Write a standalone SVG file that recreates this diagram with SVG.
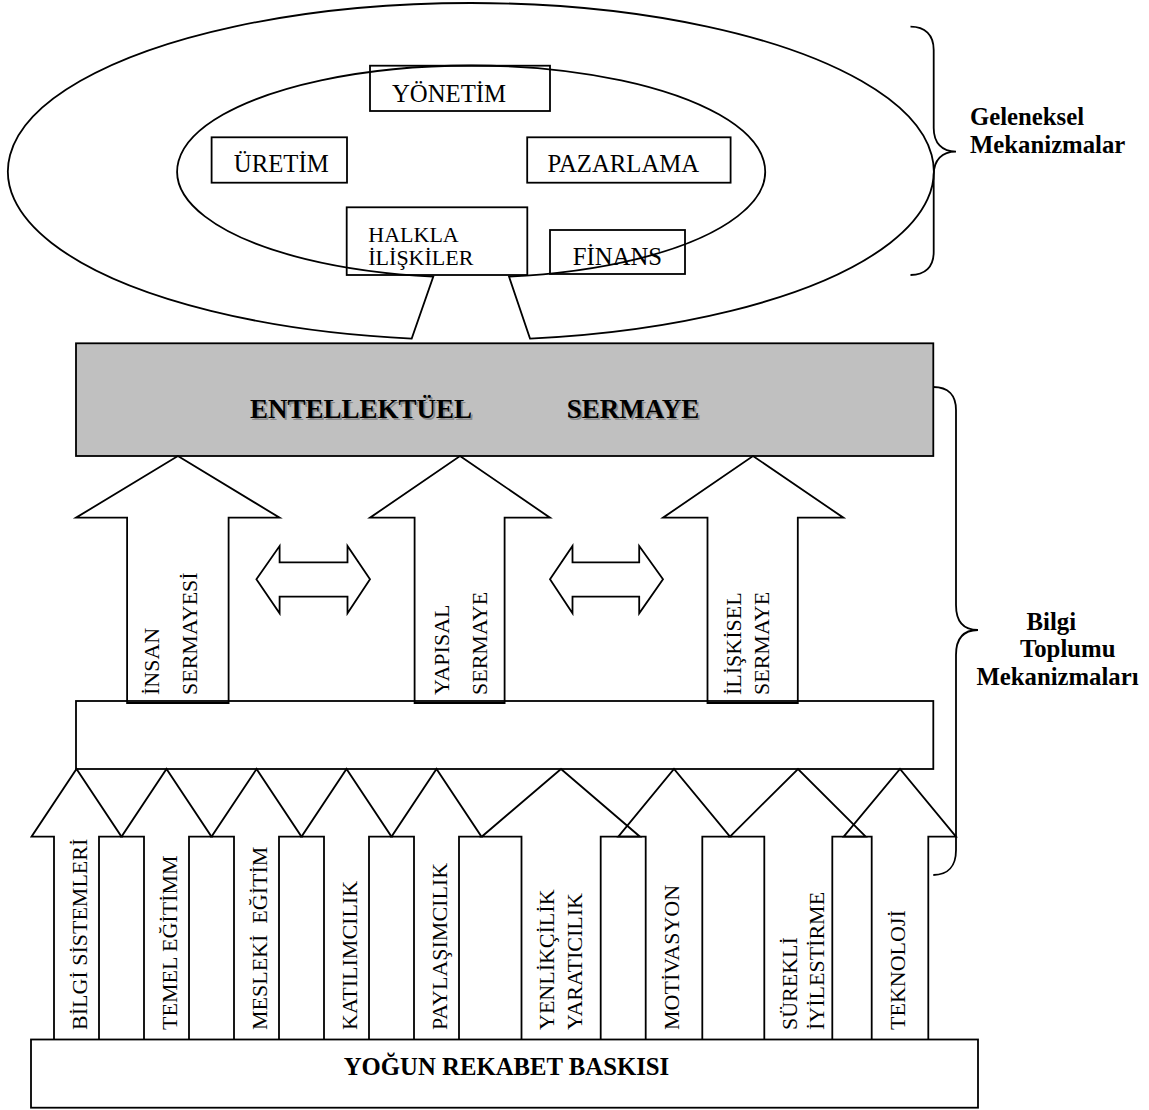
<svg xmlns="http://www.w3.org/2000/svg" width="1149" height="1110" viewBox="0 0 1149 1110">
<style>
.ln{stroke:#000;stroke-width:1.8;fill:none;stroke-linejoin:miter}
.wf{fill:#fff}
.gf{fill:#c0c0c0}
.t{font-family:"Liberation Serif","Times New Roman",serif;font-size:24.75px;fill:#000}
.s{font-size:22px}
.b{font-weight:bold}
.big{font-family:"Liberation Serif","Times New Roman",serif;font-size:27px;font-weight:bold}
.sh{fill:#8a8a8a}
</style>
<rect width="1149" height="1110" fill="#fff"/>

<g id="geleneksel-ellipse">
<path class="ln wf" d="M 411.7 338.6 A 463 168.5 0 1 1 530 338.6 L 509 276.6 A 294 106 0 1 0 433.3 276.6 Z"/>
</g>

<g id="yonetim"><rect class="ln" x="370" y="65.7" width="180" height="45.3"/><text class="t" x="392" y="101.7">YÖNETİM</text></g>
<g id="uretim"><rect class="ln" x="211.6" y="137.3" width="135.4" height="45.4"/><text class="t" x="233.8" y="171.7">ÜRETİM</text></g>
<g id="pazarlama"><rect class="ln" x="527.2" y="137.3" width="203.4" height="45.4"/><text class="t" x="547.5" y="171.7">PAZARLAMA</text></g>
<g id="halkla"><rect class="ln" x="346.7" y="207.3" width="180.6" height="67.7"/><text class="t s" x="368.3" y="241.7">HALKLA</text><text class="t s" x="368.3" y="265">İLİŞKİLER</text></g>
<g id="finans"><rect class="ln" x="550" y="230" width="135" height="44"/><text class="t" x="572.7" y="265">FİNANS</text></g>

<g id="brace-geleneksel">
<path class="ln" d="M 910.5 26.7 C 925 26.7 933.7 35 933.7 50 L 933.7 128 C 933.7 143 942 151.7 956 151.7 C 942 151.7 933.7 160 933.7 175 L 933.7 252 C 933.7 267 925 275 910.5 275"/>
<text class="t b" x="970" y="125">Geleneksel</text>
<text class="t b" x="970" y="153.3">Mekanizmalar</text>
</g>

<g id="entellektuel-sermaye">
<rect class="ln gf" x="76" y="343.3" width="857.3" height="112.7"/>
<text class="big sh" x="251.8" y="420">ENTELLEKTÜEL</text>
<text class="big sh" x="568.5" y="420">SERMAYE</text>
<text class="big" x="250" y="418.3">ENTELLEKTÜEL</text>
<text class="big" x="566.7" y="418.3">SERMAYE</text>
</g>

<g id="insan-sermayesi">
<path class="ln wf" d="M 177.9 456 L 279.6 517.7 L 228.6 517.7 L 228.6 703 L 127.1 703 L 127.1 517.7 L 76 517.7 Z"/>
<text class="t s" transform="translate(159 695) rotate(-90)">İNSAN</text>
<text class="t s" transform="translate(197 695) rotate(-90)">SERMAYESİ</text>
</g>
<g id="yapisal-sermaye">
<path class="ln wf" d="M 460 456 L 550 517.7 L 504.6 517.7 L 504.6 703 L 414.6 703 L 414.6 517.7 L 370 517.7 Z"/>
<text class="t s" transform="translate(449 695) rotate(-90)">YAPISAL</text>
<text class="t s" transform="translate(487 695) rotate(-90)">SERMAYE</text>
</g>
<g id="iliskisel-sermaye">
<path class="ln wf" d="M 753 456 L 843.4 517.7 L 797.8 517.7 L 797.8 703 L 707.5 703 L 707.5 517.7 L 663 517.7 Z"/>
<text class="t s" transform="translate(741 695) rotate(-90)">İLİŞKİSEL</text>
<text class="t s" transform="translate(769 695) rotate(-90)">SERMAYE</text>
</g>

<g id="connectors">
<path class="ln wf" d="M 256.4 579.3 L 279.6 546 L 279.6 562.3 L 347.5 562.3 L 347.5 546 L 370 579.3 L 347.5 613.3 L 347.5 596.7 L 279.6 596.7 L 279.6 613.3 Z"/>
<path class="ln wf" d="M 550 579.3 L 572.5 546 L 572.5 562.3 L 639.2 562.3 L 639.2 546 L 663 579.3 L 639.2 613.3 L 639.2 596.7 L 572.5 596.7 L 572.5 613.3 Z"/>
</g>

<g id="middle-bar"><rect class="ln" x="76" y="701" width="857.3" height="68"/></g>

<g id="brace-bilgi">
<path class="ln" d="M 933.3 387 C 948 387 956 395 956 410 L 956 605 C 956 622 964 630 978 630 C 964 630 956 638 956 655 L 956 850 C 956 866 948 875 933.3 875"/>
<text class="t b" x="1026.5" y="630">Bilgi</text>
<text class="t b" x="1020" y="656.7">Toplumu</text>
<text class="t b" x="976.4" y="685">Mekanizmaları</text>
</g>

<g id="bilgi-sistemleri">
<path class="ln" d="M 54 1039.5 L 54 836.7 L 31.5 836.7 L 76.5 769 L 121.5 836.7 L 99 836.7 L 99 1039.5"/>
<text class="t s" transform="translate(86.5 1030) rotate(-90)">BİLGİ SİSTEMLERİ</text>
</g>
<g id="temel-egitim">
<path class="ln" d="M 144 1039.5 L 144 836.7 L 121.5 836.7 L 166.5 769 L 211.5 836.7 L 189 836.7 L 189 1039.5"/>
<text class="t s" transform="translate(176.5 1030) rotate(-90)">TEMEL EĞİTİMM</text>
</g>
<g id="mesleki-egitim">
<path class="ln" d="M 234 1039.5 L 234 836.7 L 211.5 836.7 L 256.5 769 L 301.5 836.7 L 279 836.7 L 279 1039.5"/>
<text class="t s" xml:space="preserve" transform="translate(266.5 1030) rotate(-90)">MESLEKİ  EĞİTİM</text>
</g>
<g id="katilimcilik">
<path class="ln" d="M 324 1039.5 L 324 836.7 L 301.5 836.7 L 346.5 769 L 391.5 836.7 L 369 836.7 L 369 1039.5"/>
<text class="t s" transform="translate(357 1030) rotate(-90)">KATILIMCILIK</text>
</g>
<g id="paylasimcilik">
<path class="ln" d="M 414 1039.5 L 414 836.7 L 391.5 836.7 L 436.5 769 L 481.5 836.7 L 459 836.7 L 459 1039.5"/>
<text class="t s" transform="translate(447 1030) rotate(-90)">PAYLAŞIMCILIK</text>
</g>
<g id="yenlikcilik">
<path class="ln" d="M 521.5 1039.5 L 521.5 836.7 L 481.7 836.7 L 561 769 L 640 836.7 L 600.7 836.7 L 600.7 1039.5"/>
<text class="t s" transform="translate(553.5 1030) rotate(-90)">YENLİKÇİLİK</text>
<text class="t s" transform="translate(581.5 1030) rotate(-90)">YARATICILIK</text>
</g>
<g id="motivasyon">
<path class="ln" d="M 645.7 1039.5 L 645.7 836.7 L 618.3 836.7 L 674 769 L 730 836.7 L 702.3 836.7 L 702.3 1039.5"/>
<text class="t s" transform="translate(679 1030) rotate(-90)">MOTİVASYON</text>
</g>
<g id="surekli-iyilestirme">
<path class="ln" d="M 764.3 1039.5 L 764.3 836.7 L 730 836.7 L 798 769 L 865.7 836.7 L 832.3 836.7 L 832.3 1039.5"/>
<text class="t s" transform="translate(797 1030) rotate(-90)">SÜREKLİ</text>
<text class="t s" transform="translate(824 1030) rotate(-90)">İYİLESTİRME</text>
</g>
<g id="teknoloji">
<path class="ln" d="M 871.7 1039.5 L 871.7 836.7 L 843.7 836.7 L 900 769 L 956 836.7 L 928.3 836.7 L 928.3 1039.5"/>
<text class="t s" transform="translate(905 1030) rotate(-90)">TEKNOLOJİ</text>
</g>

<g id="yogun-rekabet">
<rect class="ln" x="31" y="1039.5" width="947" height="68.2"/>
<text class="t b" x="506.5" y="1075" text-anchor="middle">YOĞUN REKABET BASKISI</text>
</g>
</svg>
